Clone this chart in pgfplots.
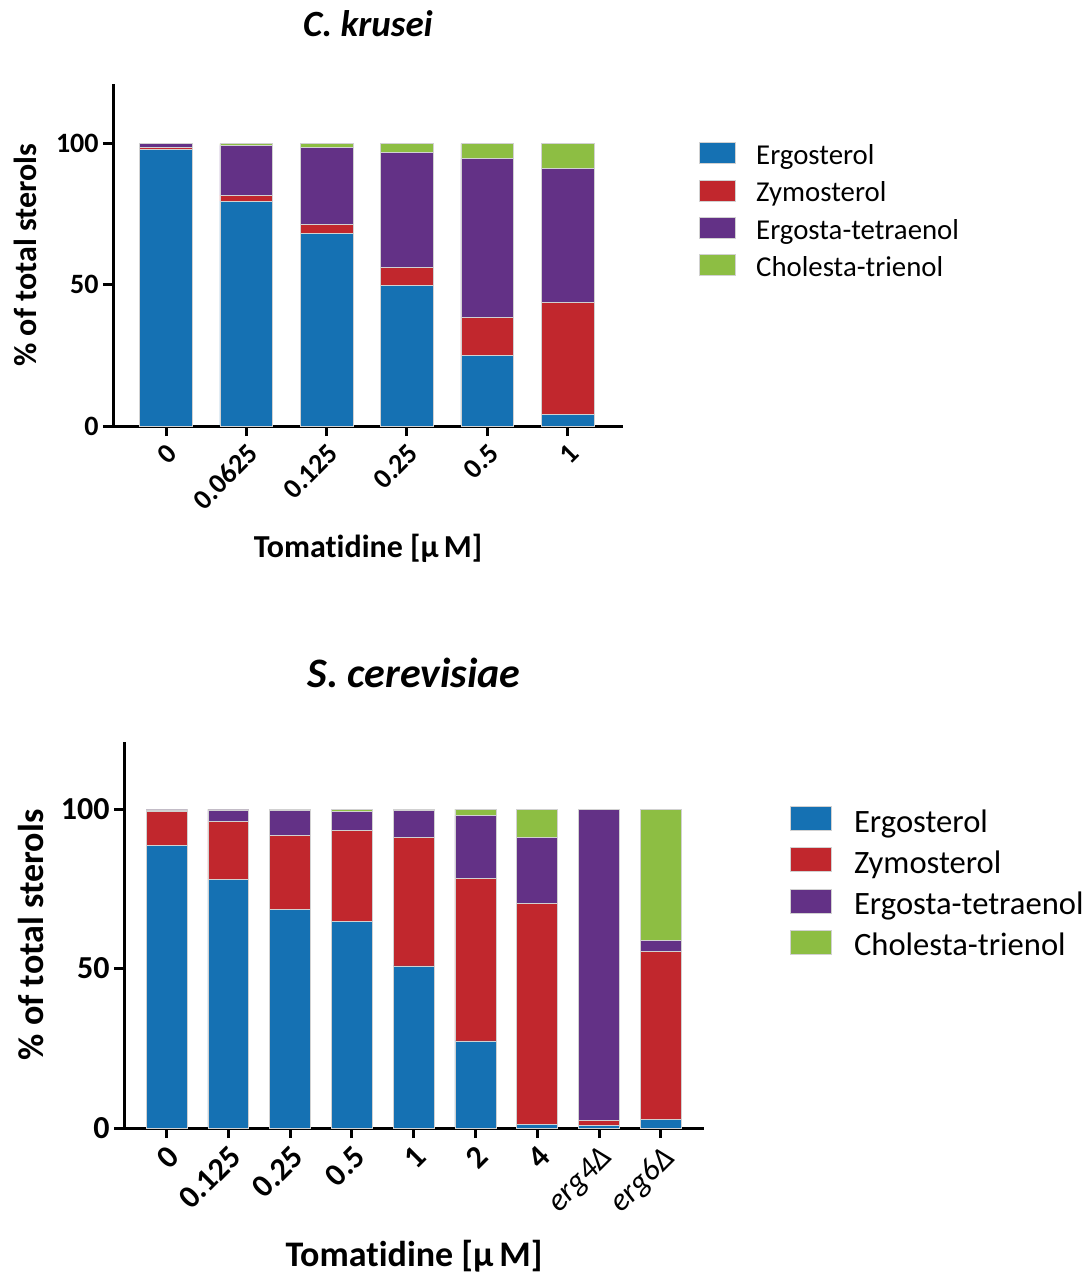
\documentclass[border=0pt]{standalone}
\usepackage{fontspec}
\setmainfont{Carlito}[Ligatures=NoCommon]
\usepackage{pgfplots}
\usepackage{pgfplotstable}
\pgfplotsset{compat=1.18}
\newcommand\fs[1]{\fontsize{#1}{#1}\selectfont}
\definecolor{cErg}{RGB}{21,113,179}
\definecolor{cZym}{RGB}{193,39,45}
\definecolor{cTet}{RGB}{99,49,134}
\definecolor{cCho}{RGB}{141,190,67}

\pgfplotstableread{
x erg zym tet cho
0 98.0 0.7 1.3 0.0
1 79.6 2.2 17.6 0.6
2 68.1 3.4 27.1 1.4
3 49.7 6.3 40.9 3.1
4 24.9 13.4 56.5 5.2
5 4.0 39.8 47.3 8.9
}\topdata

\pgfplotstableread{
x erg zym tet cho
0 88.5 10.8 0.4 0.3
1 77.9 18.2 3.6 0.3
2 68.4 23.3 7.9 0.4
3 64.8 28.5 6.0 0.7
4 50.8 40.3 8.4 0.5
5 27.3 50.9 19.8 2.0
6 1.2 69.3 20.6 8.9
7 0.8 1.5 97.7 0.0
8 2.6 52.8 3.3 41.3
}\botdata

\pgfplotsset{
  sterol/.style={
    ybar stacked,
    scale only axis,
    anchor=south west,
    axis x line*=bottom,
    axis y line*=left,
    axis line style={line width=1.5pt, black},
    major tick style={line width=1.5pt, black},
    tick align=outside,
    major tick length=5pt,
    ymin=0, ymax=121,
    ytick={0,50,100},
    xtick=data,
    /pgf/number format/assume math mode=true,
    legend cell align=left,
    every axis plot/.append style={draw=white!82!black, line width=0.4pt},
  },
}

\begin{document}
\begin{tikzpicture}
\path[use as bounding box] (0,0) rectangle (544.5pt,-637pt);

% ---------- C. krusei ----------
\begin{axis}[sterol,
  at={(56.5pt,-213pt)},
  width=255pt, height=170.85pt,
  xmin=-0.66, xmax=5.69,
  bar width=0.656,
  xticklabels={0,0.0625,0.125,0.25,0.5,1},
  xticklabel style={rotate=45, anchor=north east, font=\bfseries\fs{14}, inner sep=2pt},
  yticklabel style={font=\bfseries\fs{14}, inner sep=2pt},
  title={\bfseries\itshape C. krusei},
  title style={at={(axis description cs:0.5,1)}, anchor=base, yshift=18pt, font=\fs{18.5}},
  xlabel={\bfseries Tomatidine [µ\,M]},
  xlabel style={at={(axis description cs:0.5,0)}, anchor=base, yshift=-65.5pt, font=\fs{16}},
  ylabel={\bfseries \% of total sterols},
  ylabel style={at={(axis description cs:-0.1725,0.5)}, anchor=center, rotate=0, font=\fs{16}},
  legend style={at={(axis description cs:1.149,0.831)}, anchor=north west, draw=none, fill=none,
    inner sep=0pt, font=\fs{14.4}, row sep=4.35pt,
    nodes={inner sep=0pt, text height=10pt, text depth=3pt},
    /tikz/every odd column/.style={column sep=10pt}},
  legend image code/.code={\fill[#1] (0pt,-3pt) rectangle (18pt,7.5pt);},
]
\addplot[fill=cErg] table[x=x,y=erg]{\topdata};
\addplot[fill=cZym] table[x=x,y=zym]{\topdata};
\addplot[fill=cTet] table[x=x,y=tet]{\topdata};
\addplot[fill=cCho] table[x=x,y=cho]{\topdata};
\legend{Ergosterol,Zymosterol,Ergosta-tetraenol,Cholesta-trienol}
\end{axis}

% ---------- S. cerevisiae ----------
\begin{axis}[sterol,
  at={(62pt,-564pt)},
  width=290pt, height=193pt,
  xmin=-0.69, xmax=8.70,
  bar width=0.663,
  xticklabels={0,0.125,0.25,0.5,1,2,4,{\mdseries\itshape erg4Δ},{\mdseries\itshape erg6Δ}},
  xticklabel style={rotate=45, anchor=north east, font=\bfseries\fs{16}, inner sep=2pt},
  yticklabel style={font=\bfseries\fs{16}, inner sep=2pt},
  title={\bfseries\itshape S. cerevisiae},
  title style={at={(axis description cs:0.5,1)}, anchor=base, yshift=21.5pt, font=\fs{21}},
  xlabel={\bfseries Tomatidine [µ\,M]},
  xlabel style={at={(axis description cs:0.5,0)}, anchor=base, yshift=-69pt, font=\fs{18}},
  ylabel={\bfseries \% of total sterols},
  ylabel style={at={(axis description cs:-0.160,0.5)}, anchor=center, rotate=0, font=\fs{18}},
  legend style={at={(axis description cs:1.148,0.8346)}, anchor=north west, draw=none, fill=none,
    inner sep=0pt, font=\fs{16.3}, row sep=4.15pt,
    nodes={inner sep=0pt, text height=11.5pt, text depth=3.5pt},
    /tikz/every odd column/.style={column sep=11pt}},
  legend image code/.code={\fill[#1] (0pt,-3.25pt) rectangle (20.5pt,8.75pt);},
]
\addplot[fill=cErg] table[x=x,y=erg]{\botdata};
\addplot[fill=cZym] table[x=x,y=zym]{\botdata};
\addplot[fill=cTet] table[x=x,y=tet]{\botdata};
\addplot[fill=cCho] table[x=x,y=cho]{\botdata};
\legend{Ergosterol,Zymosterol,Ergosta-tetraenol,Cholesta-trienol}
\end{axis}
\end{tikzpicture}
\end{document}
